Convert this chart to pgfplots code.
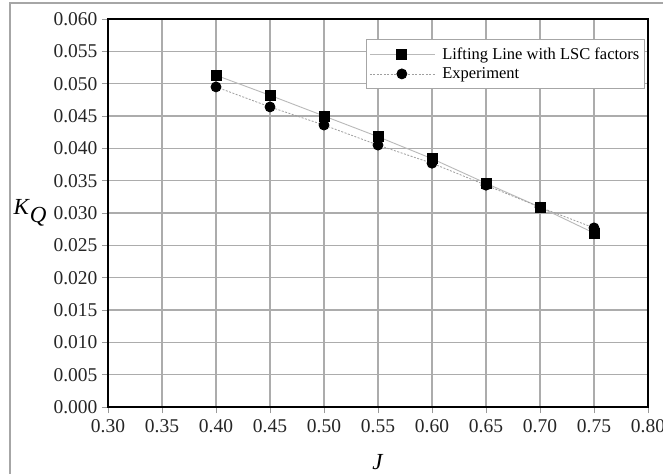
\documentclass[border=0pt]{standalone}
\usepackage{pgfplots}
\pgfplotsset{compat=1.18}
\usepackage{fontspec}
\setmainfont{Liberation Serif}
\begin{document}
\begin{tikzpicture}
\useasboundingbox (0,0) rectangle (663pt,474pt);
\fill[white] (0,0) rectangle (663pt,474pt);
\draw[gray!70, line width=1.2pt] (10pt,0pt) -- (10pt,471pt) -- (663pt,471pt);
\begin{axis}[
  at={(108pt,67pt)}, anchor=south west,
  scale only axis, width=540pt, height=388pt,
  xmin=0.30, xmax=0.80, ymin=0, ymax=0.060,
  xtick={0.30,0.35,...,0.801}, ytick={0,0.005,...,0.0601},
  xticklabel style={yshift=-3pt, /pgf/number format/.cd,fixed,fixed zerofill,precision=2},
  yticklabel style={xshift=-1pt, /pgf/number format/.cd,fixed,fixed zerofill,precision=3},
  scaled y ticks=false, scaled x ticks=false,
  /pgf/number format/assume math mode=true,
  tick label style={font=\fontsize{19.5}{22}\selectfont, text=black!85},
  tick align=outside, major tick length=6pt,
  tick pos=left,
  tick style={gray!80, line width=1pt},
  grid=major,
  major grid style={gray!65, line width=1.3pt},
  axis line style={black, line width=1.6pt},
  xlabel={\textit{J}},
  ylabel={\textit{K}\raisebox{-0.35em}{\textit{Q}}},
  every axis x label/.style={at={(axis description cs:0.5,0)},anchor=center,yshift=-55pt,font=\fontsize{23}{25}\selectfont},
  every axis y label/.style={at={(axis description cs:0,0.5)},anchor=center,xshift=-78pt,font=\fontsize{23}{25}\selectfont},
  legend cell align=left,
  legend style={at={(0.994,0.948)}, anchor=north east, draw=gray!70, line width=0.8pt, fill=white,
    font=\fontsize{16.5}{20}\selectfont, inner xsep=3pt, inner ysep=6pt, row sep=3pt,
    /tikz/every odd column/.append style={column sep=5pt}},
  legend image code/.code={\draw[mark repeat=2,mark phase=2,#1] plot coordinates {(0pt,0pt) (32pt,0pt) (65pt,0pt)};},
]
\addplot[gray!55, line width=0.9pt, mark=square*, mark size=5pt, mark options={solid, fill=black, draw=black}]
coordinates {(0.40,0.0513) (0.45,0.0482) (0.50,0.0450) (0.55,0.0418) (0.60,0.0384) (0.65,0.0346) (0.70,0.0309) (0.75,0.0269)};
\addlegendentry{Lifting Line with LSC factors}
\addplot[gray!75, line width=0.8pt, dash pattern=on 2pt off 1.5pt, mark=*, mark size=5pt, mark options={solid, fill=black, draw=black}]
coordinates {(0.40,0.0495) (0.45,0.0464) (0.50,0.0436) (0.55,0.0405) (0.60,0.0377) (0.65,0.0343) (0.70,0.0309) (0.75,0.0277)};
\addlegendentry{Experiment}
\end{axis}
\end{tikzpicture}
\end{document}
